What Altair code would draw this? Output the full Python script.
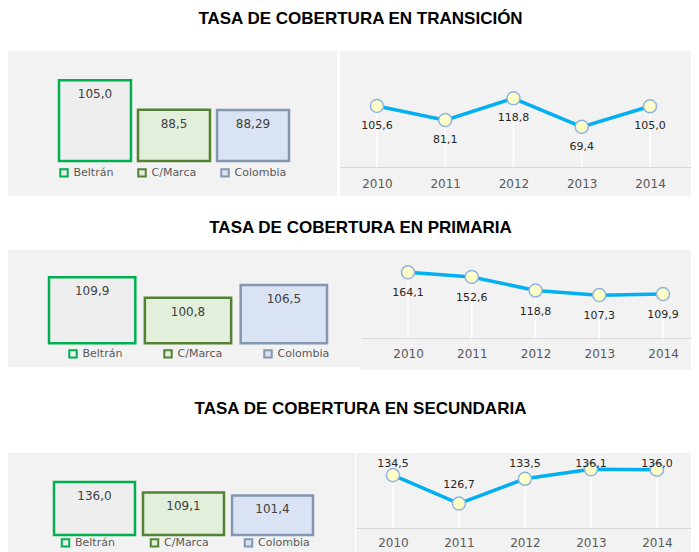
import altair as alt
import pandas as pd

cats = ["Beltrán", "C/Marca", "Colombia"]
years = ["2010", "2011", "2012", "2013", "2014"]

titles = ["TASA DE COBERTURA EN TRANSICIÓN",
          "TASA DE COBERTURA EN PRIMARIA",
          "TASA DE COBERTURA EN SECUNDARIA"]

# Transición
trans_bars = [105.0, 88.5, 88.29]
trans_bar_labels = ["105,0", "88,5", "88,29"]
trans_line = [105.6, 81.1, 118.8, 69.4, 105.0]
trans_line_labels = ["105,6", "81,1", "118,8", "69,4", "105,0"]

# Primaria
prim_bars = [109.9, 100.8, 106.5]
prim_bar_labels = ["109,9", "100,8", "106,5"]
prim_line = [164.1, 152.6, 118.8, 107.3, 109.9]
prim_line_labels = ["164,1", "152,6", "118,8", "107,3", "109,9"]

# Secundaria
sec_bars = [136.0, 109.1, 101.4]
sec_bar_labels = ["136,0", "109,1", "101,4"]
sec_line = [134.5, 126.7, 133.5, 136.1, 136.0]
sec_line_labels = ["134,5", "126,7", "133,5", "136,1", "136,0"]

fills = ["#eeeeee", "#e2efda", "#dae3f3"]
strokes = ["#00b050", "#548235", "#8497b0"]

FONT = "DejaVu Sans"


def bar_panel(values, labels, width, height, xrange, pad_inner, ydom, yrange,
              legend_x, legend_y, col_pad):
    df = pd.DataFrame({"cat": cats, "val": values, "label": labels})
    x = alt.X("cat:N", sort=cats,
              scale=alt.Scale(range=xrange, paddingInner=pad_inner, paddingOuter=0),
              axis=None)
    y = alt.Y("val:Q", scale=alt.Scale(domain=ydom, range=yrange, zero=False, nice=False),
              axis=None)
    leg = alt.Legend(orient="none", legendX=legend_x, legendY=legend_y,
                     direction="horizontal", title=None, symbolType="square",
                     symbolSize=56, symbolStrokeWidth=2, labelFont=FONT,
                     labelFontSize=11, labelColor="#595959", labelOffset=4,
                     columnPadding=col_pad, padding=0)
    bars = alt.Chart(df).mark_bar(strokeWidth=2.5).encode(
        x=x, y=y, y2=alt.datum(ydom[0]),
        fill=alt.Fill("cat:N", sort=cats, scale=alt.Scale(domain=cats, range=fills), legend=leg),
        stroke=alt.Stroke("cat:N", sort=cats, scale=alt.Scale(domain=cats, range=strokes), legend=leg),
    )
    text = alt.Chart(df).mark_text(dy=14, baseline="middle", font=FONT, fontSize=12,
                                   color="#404040").encode(x=x, y=y, text="label:N")
    return alt.layer(bars, text).properties(width=width, height=height)


def line_panel(values, labels, width, height, pad, align, ydom, yrange, axis_px,
               label_dy, label_expr, label_pad):
    df = pd.DataFrame({"year": years, "val": values, "label": labels})
    x = alt.X("year:O", sort=years,
              scale=alt.Scale(type="point", padding=pad, align=align),
              axis=alt.Axis(title=None, offset=-(height - axis_px), domainColor="#d9d9d9",
                            domainWidth=1, ticks=False, tickSize=0, grid=False,
                            labelAngle=0, labelBaseline="middle", labelPadding=label_pad,
                            labelFont=FONT, labelFontSize=12, labelColor="#595959"))
    yscale = alt.Scale(domain=ydom, range=yrange, zero=False, nice=False)
    y = alt.Y("val:Q", scale=yscale, axis=None)
    base = alt.Chart(df)
    drops = base.mark_rule(color="white", strokeWidth=1.5).encode(
        x=x, y=y, y2=alt.datum(ydom[0]))
    line = base.mark_line(color="#00b0f0", strokeWidth=3.5).encode(x=x, y=y)
    pts = base.mark_point(shape="circle", fill="#ffffc8", fillOpacity=1, opacity=1,
                          stroke="#8fb4e3", strokeWidth=1.5, size=170).encode(x=x, y=y)
    txt = base.transform_calculate(ly=label_expr).mark_text(
        dy=label_dy, baseline="middle", font=FONT, fontSize=11, color="#262626"
    ).encode(x=x, y=alt.Y("ly:Q", scale=yscale, axis=None), text="label:N")
    return alt.layer(drops, line, pts, txt).properties(width=width, height=height)


def indep(c):
    return c.resolve_scale(fill="independent", stroke="independent"
                           ).resolve_legend(fill="independent", stroke="independent")


def row(title, left, right, spacing, offset):
    return alt.hconcat(
        left, right, spacing=spacing,
        title=alt.TitleParams(title, fontSize=17, font="Liberation Sans", fontWeight="bold",
                              color="#000000", anchor="middle", offset=offset, dx=11),
    ).resolve_scale(fill="independent", stroke="independent", x="independent", y="independent"
    ).resolve_legend(fill="independent", stroke="independent")


row1 = row(
    titles[0],
    bar_panel(trans_bars, trans_bar_labels, 329, 145, [51, 281], 0.089,
              [59.7, 105], [110, 29.3], 50.5, 116, 20),
    line_panel(trans_line, trans_line_labels, 351, 145, 0.571, 0.474,
               [0, 118.8], [116, 47.3], 116, 20, "datum.val", 16),
    3, 23)

row2 = row(
    titles[1],
    bar_panel(prim_bars, prim_bar_labels, 353, 117, [41, 319], 0.0995,
              [80.4, 109.9], [93.3, 27.3], 59.5, 98, 37),
    line_panel(prim_line, prim_line_labels, 330, 120, 0.588, 0.627,
               [0, 164.1], [88.3, 22.3], 88, 21, "datum.val", 15),
    0, 13)

row3 = row(
    titles[2],
    bar_panel(sec_bars, sec_bar_labels, 347, 99, [46, 305], 0.09,
              [0, 136], [82, 29], 52, 84, 31),
    line_panel(sec_line, sec_line_labels, 335, 99, 0.538, 0.52,
               [120, 136.1], [75, 16.3], 75, -19, "min(datum.val, 132.4)", 14),
    1, 35)

top_rows = indep(alt.vconcat(row1, row2, spacing=23))

chart = indep(alt.vconcat(top_rows, row3, spacing=30)).properties(
    padding={"left": 0, "top": 2, "right": 0, "bottom": 0}
).configure_view(fill="#f2f2f2", stroke="transparent", strokeWidth=0)

chart.save("out.html", embed_options={"renderer": "svg", "actions": False})
